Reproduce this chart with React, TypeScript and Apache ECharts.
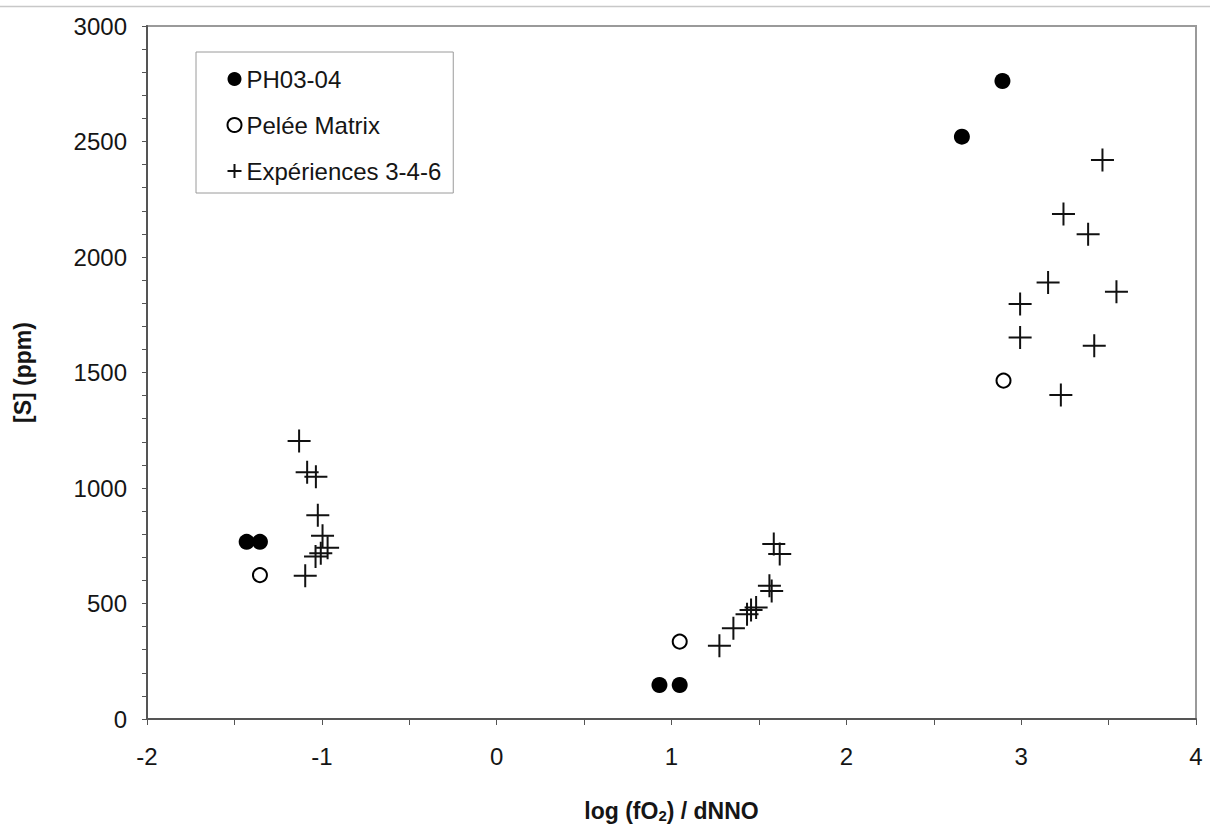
import React, { useEffect, useRef } from "react";
import * as echarts from "echarts";

const xTicks = { min: -2, max: 4, interval: 1 };
const yTicks = { min: 0, max: 3000, interval: 500 };

const ph0304X = [-1.43, -1.354, 0.931, 1.047, 2.893, 2.661];
const ph0304Y = [767, 767, 147, 147, 2762, 2521];

const peleeX = [-1.354, 1.047, 2.899];
const peleeY = [623, 335, 1465];

const expX = [
  -1.13, -1.084, -1.034, -1.023, -0.996, -0.967, -1.006, -1.036, -1.095,
  1.585, 1.619, 1.56, 1.573, 1.484, 1.455, 1.432, 1.354, 1.274,
  3.465, 3.242, 3.383, 3.154, 3.545, 2.994, 2.994, 3.418, 3.227,
];
const expY = [
  1203, 1068, 1049, 882, 793, 741, 717, 703, 620,
  758, 714, 577, 554, 483, 472, 453, 393, 317,
  2420, 2186, 2098, 1890, 1850, 1797, 1651, 1616, 1403,
];

const seriesNames = ["PH03-04", "Pelée Matrix", "Expériences 3-4-6"];

const zip = (xs: number[], ys: number[]) => xs.map((x, i) => [x, ys[i]]);

const CROSS = "path://M10,0L10,20M0,10L20,10";
const FONT = "'Liberation Sans', Arial, sans-serif";
const TXT = "#151515";

export default function App() {
  const ref = useRef<HTMLDivElement>(null);
  useEffect(() => {
    if (!ref.current) return;
    const chart = echarts.init(ref.current, undefined, { renderer: "svg" });
    chart.setOption({
      animation: false,
      backgroundColor: "#fff",
      textStyle: { fontFamily: FONT, color: TXT },
      graphic: [
        {
          type: "line",
          shape: { x1: 0, y1: 6.5, x2: 1210, y2: 6.5 },
          style: { stroke: "#c8c8c8", lineWidth: 1.5 },
        },
      ],
      grid: {
        left: 147,
        right: 14,
        top: 26,
        bottom: 107,
        show: true,
        containLabel: false,
        outerBoundsMode: "none",
        borderColor: "#9a9a9a",
        borderWidth: 2,
        backgroundColor: "#fff",
      },
      legend: {
        orient: "vertical",
        left: 196,
        top: 52,
        padding: [15, 12, 10, 29],
        itemGap: 22,
        itemWidth: 14,
        itemHeight: 14,
        borderColor: "#9a9a9a",
        borderWidth: 1,
        backgroundColor: "#fff",
        textStyle: { fontSize: 24, fontFamily: FONT, color: TXT },
        data: seriesNames,
      },
      xAxis: {
        type: "value",
        min: xTicks.min,
        max: xTicks.max,
        interval: xTicks.interval,
        name: "log (fO{sub|2}) / dNNO",
        nameLocation: "middle",
        nameGap: 80,
        nameTextStyle: {
          fontSize: 23,
          fontWeight: "bold",
          fontFamily: FONT,
          color: TXT,
          lineHeight: 24,
          rich: {
            sub: { fontSize: 15, fontWeight: "bold", fontFamily: FONT, color: TXT, lineHeight: 24, verticalAlign: "bottom", padding: [7, 0, 0, 0] },
          },
        },
        axisLine: { show: true, onZero: false, lineStyle: { color: "#555", width: 2 } },
        axisTick: { show: true, inside: false, length: 6, lineStyle: { color: "#555", width: 1 } },
        minorTick: { show: true, splitNumber: 2, length: 6, lineStyle: { color: "#555", width: 1 } },
        splitLine: { show: false },
        axisLabel: { fontSize: 24, color: TXT, margin: 25, fontFamily: FONT },
      },
      yAxis: {
        type: "value",
        min: yTicks.min,
        max: yTicks.max,
        interval: yTicks.interval,
        name: "[S] (ppm)",
        nameLocation: "middle",
        nameGap: 113,
        nameTextStyle: { fontSize: 23, fontWeight: "bold", fontFamily: FONT, color: TXT },
        axisLine: { show: true, onZero: false, lineStyle: { color: "#555", width: 2 } },
        axisTick: { show: true, inside: false, length: 5, lineStyle: { color: "#555", width: 1 } },
        minorTick: { show: true, splitNumber: 5, length: 5, lineStyle: { color: "#555", width: 1 } },
        splitLine: { show: false },
        axisLabel: {
          fontSize: 24,
          color: TXT,
          margin: 20,
          fontFamily: FONT,
          formatter: (v: number) => String(v),
        },
      },
      series: [
        {
          name: seriesNames[0],
          type: "scatter",
          data: zip(ph0304X, ph0304Y),
          symbol: "circle",
          symbolSize: 16,
          itemStyle: { color: "#000", opacity: 1 },
          z: 3,
        },
        {
          name: seriesNames[1],
          type: "scatter",
          data: zip(peleeX, peleeY),
          symbol: "circle",
          symbolSize: 14,
          itemStyle: { color: "#fff", borderColor: "#000", borderWidth: 2, opacity: 1 },
          z: 3,
        },
        {
          name: seriesNames[2],
          type: "scatter",
          data: zip(expX, expY),
          symbol: CROSS,
          symbolSize: 23,
          itemStyle: { color: "none", borderColor: "#111", borderWidth: 2, opacity: 1 },
          z: 2,
        },
      ],
    });
    return () => chart.dispose();
  }, []);
  return (
    <div
      ref={ref}
      style={{ position: "absolute", left: 0, top: 0, width: 1210, height: 826 }}
    />
  );
}
